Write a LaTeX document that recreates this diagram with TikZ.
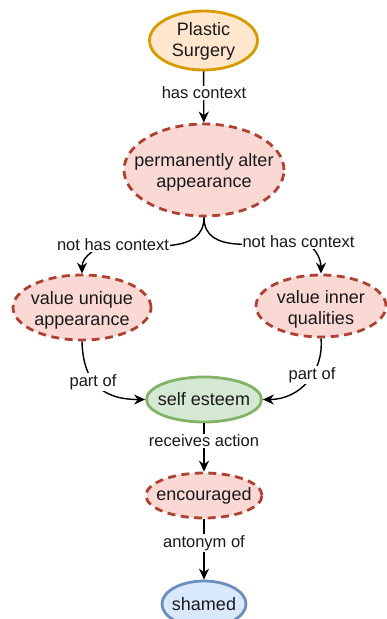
\documentclass[tikz,border=0pt]{standalone}
\usepackage{fontspec}
\setmainfont{Liberation Sans}
\usetikzlibrary{shapes.geometric,arrows.meta}
\definecolor{orfill}{HTML}{FFE6CC}
\definecolor{ordraw}{HTML}{D79B00}
\definecolor{rdfill}{HTML}{FAD9D5}
\definecolor{rddraw}{HTML}{AE4132}
\definecolor{grfill}{HTML}{D5E8D4}
\definecolor{grdraw}{HTML}{82B366}
\definecolor{blfill}{HTML}{DAE8FC}
\definecolor{bldraw}{HTML}{6C8EBF}
\tikzset{
  base/.style={ellipse, inner sep=0pt, line width=2.8pt},
  txt/.style={align=center, inner sep=0pt, font=\fontsize{18}{21}\selectfont, text=black!90},
  orange/.style={base, fill=orfill, draw=ordraw},
  reddash/.style={base, fill=rdfill, draw=rddraw, dash pattern=on 8pt off 5.5pt},
  green/.style={base, fill=grfill, draw=grdraw},
  blue/.style={base, fill=blfill, draw=bldraw},
  arr/.style={line width=1.4pt, -{Stealth[length=11pt,width=10pt]}},
  lbl/.style={fill=white, inner sep=1pt, font=\fontsize{16.5}{19}\selectfont, text=black!90}
}
\begin{document}
\begin{tikzpicture}[x=1pt,y=-1pt]
\useasboundingbox (0,0) rectangle (386,619);
\node[orange, minimum width=108pt, minimum height=59pt, label={[txt,yshift=-1pt]center:{Plastic\\Surgery}}] (ps) at (203.5,40.5) {};
\node[reddash, minimum width=160pt, minimum height=92pt, label={[txt,yshift=-2pt]center:{permanently alter\\appearance}}] (paa) at (204,170) {};
\node[reddash, minimum width=138pt, minimum height=65pt, label={[txt,yshift=-2.5pt]center:{value unique\\appearance}}] (vua) at (82,307.5) {};
\node[reddash, minimum width=130pt, minimum height=62pt, label={[txt,yshift=-3pt]center:{value inner\\qualities}}] (viq) at (321,306) {};
\node[green, minimum width=115pt, minimum height=45pt, label={[txt]center:{self esteem}}] (se) at (204,399.5) {};
\node[reddash, minimum width=116pt, minimum height=45pt, label={[txt]center:{encouraged}}] (enc) at (204,495.5) {};
\node[blue, minimum width=84pt, minimum height=46pt, label={[txt]center:{shamed}}] (sh) at (204,604) {};

\draw[arr] (ps) -- (paa);
\node[lbl] (l0) at (204,93) {has context};
\draw[arr] (paa.south) to[out=-90,in=0] (113,245) to[out=180,in=90] (vua.north);
\node[lbl] (l1) at (113,245) {not has context};
\draw[arr] (paa.south) to[out=-90,in=180] (298.5,242) to[out=0,in=90] (viq.north);
\node[lbl] (l2) at (298.5,242) {not has context};
\draw[arr] (vua.south) .. controls (83,380) and (100,399.5) .. (se.west);
\node[lbl] (l3) at (93,382) {part of};
\draw[arr] (viq.south) .. controls (324,372) and (300,399.5) .. (se.east);
\node[lbl] (l4) at (312,375) {part of};
\draw[arr] (se) -- (enc);
\node[lbl] (l5) at (204,441) {receives action};
\draw[arr] (enc) -- (sh);
\node[lbl] (l6) at (204,543) {antonym of};
\end{tikzpicture}
\end{document}
